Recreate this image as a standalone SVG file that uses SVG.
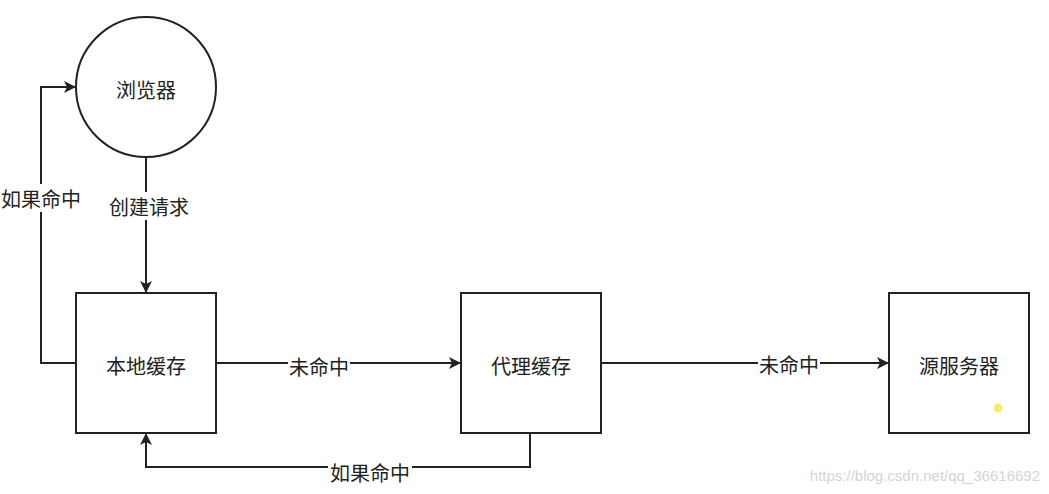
<svg xmlns="http://www.w3.org/2000/svg" width="1049" height="494" viewBox="0 0 1049 494">
<style>
.node{fill:#fff;stroke:#222;stroke-width:2}
.t{font-family:"Noto Sans CJK SC","Liberation Sans",sans-serif;font-size:20px;fill:#222;text-anchor:middle;dominant-baseline:central}
.e{fill:none;stroke:#222;stroke-width:2}
.lb{fill:#fff}
</style>
<defs>
<marker id="ah" markerWidth="12" markerHeight="12" viewBox="0 0 12 12" refX="11" refY="6" orient="auto" markerUnits="userSpaceOnUse">
<path d="M0,0 L12,6 L0,12 L3,6 Z" fill="#222"/>
</marker>
</defs>
<rect width="1049" height="494" fill="#fff"/>
<g id="connectors">
<path class="e" d="M146,157 V292" marker-end="url(#ah)"/>
<path class="e" d="M76,363 H41 V87 H75" marker-end="url(#ah)"/>
<path class="e" d="M216,363 H460" marker-end="url(#ah)"/>
<path class="e" d="M601,363 H888" marker-end="url(#ah)"/>
<path class="e" d="M530,433 V467 H146 V434" marker-end="url(#ah)"/>
<rect class="lb" x="106" y="192" width="86" height="28"/>
<text class="t" x="149" y="206">创建请求</text>
<rect class="lb" x="0" y="184" width="82" height="28"/>
<text class="t" x="41" y="198">如果命中</text>
<rect class="lb" x="288" y="352" width="62" height="28"/>
<text class="t" x="319" y="366">未命中</text>
<rect class="lb" x="758" y="350" width="62" height="28"/>
<text class="t" x="789" y="364">未命中</text>
<rect class="lb" x="328" y="458" width="84" height="28"/>
<text class="t" x="370" y="472">如果命中</text>
</g>
<g id="browser">
<circle class="node" cx="146" cy="87" r="70"/>
<text class="t" x="146" y="89">浏览器</text>
</g>
<g id="local-cache">
<rect class="node" x="76" y="293" width="140" height="140"/>
<text class="t" x="146" y="365">本地缓存</text>
</g>
<g id="proxy-cache">
<rect class="node" x="461" y="293" width="140" height="140"/>
<text class="t" x="531" y="365">代理缓存</text>
</g>
<g id="origin-server">
<rect class="node" x="889" y="293" width="140" height="140"/>
<text class="t" x="959" y="365">源服务器</text>
<circle cx="998" cy="408" r="4.5" fill="#f7ea6a"/>
</g>
<text x="1040" y="475" font-family="Liberation Sans, sans-serif" font-size="15" fill="#d4d4d4" text-anchor="end" dominant-baseline="central">https://blog.csdn.net/qq_36616692</text>
</svg>
